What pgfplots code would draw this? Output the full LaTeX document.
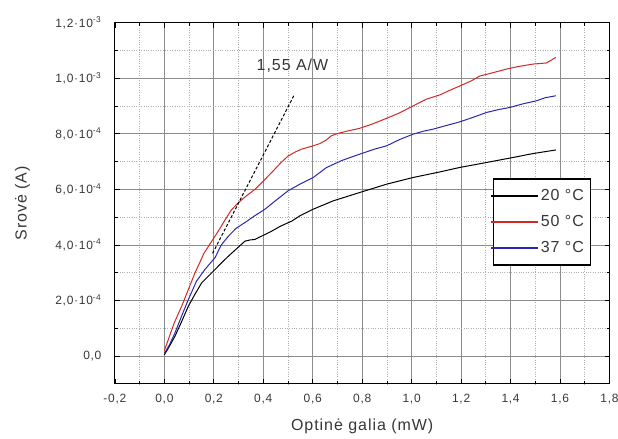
\documentclass[border=0pt]{standalone}
\usepackage{pgfplots}
\pgfplotsset{compat=1.18}
\usepackage{fontspec}
\setmainfont{Liberation Sans}[LetterSpace=6]
\definecolor{cred}{RGB}{210,40,40}
\definecolor{cblue}{RGB}{40,40,175}
\definecolor{grd}{RGB}{140,140,140}
\definecolor{mgrd}{RGB}{175,175,175}
\definecolor{txt}{RGB}{55,55,55}
\begin{document}
\begin{tikzpicture}
\begin{axis}[
  scale only axis, width=495bp, height=361.6bp,
  xmin=-0.2, xmax=1.8, ymin=-1e-4, ymax=1.2e-3,
  xtick={-0.2,0,0.2,0.4,0.6,0.8,1.0,1.2,1.4,1.6,1.8},
  xticklabels={{-0,2},{0,0},{0,2},{0,4},{0,6},{0,8},{1,0},{1,2},{1,4},{1,6},{1,8}},
  ytick={0,2e-4,4e-4,6e-4,8e-4,1e-3,1.2e-3},
  yticklabels={{0,0},{2,0·10\textsuperscript{-4}},{4,0·10\textsuperscript{-4}},{6,0·10\textsuperscript{-4}},{8,0·10\textsuperscript{-4}},{1,0·10\textsuperscript{-3}},{1,2·10\textsuperscript{-3}}},
  scaled y ticks=false, scaled x ticks=false,
  minor x tick num=1, minor y tick num=1,
  grid=both,
  major grid style={grd, line width=1bp},
  minor grid style={mgrd, dotted, line width=0.8bp},
  axis line style={black, line width=1bp},
  tick align=inside,
  major tick length=5bp, minor tick length=3bp,
  every tick/.style={black, line width=0.8bp},
  tick label style={font=\fontsize{12bp}{14bp}\selectfont, text=txt},
  xticklabel style={yshift=-7bp},
  yticklabel style={xshift=-10bp},
  label style={font=\fontsize{16bp}{19bp}\selectfont, text=txt},
  xlabel={Optinė galia (mW)},
  ylabel={Srovė (A)},
  xlabel style={at={(axis description cs:0.5,-0.116)}, anchor=center},
  ylabel style={at={(axis description cs:-0.187,0.5)}, anchor=center},
  legend style={at={(0.9625,0.569)}, anchor=north east,
    inner xsep=4bp, inner ysep=8bp, font=\fontsize{16bp}{19bp}\selectfont\color{txt},
    cells={anchor=west}, row sep=8.5bp, nodes={inner sep=2.5bp}, line width=1.2bp},
  legend image code/.code={\draw[overlay,#1,line width=1.4bp] (-6.5bp,0bp) -- (40bp,0bp); \path (0bp,0bp) -- (40bp,0bp);},
]
\addplot[black, line width=1bp] coordinates {
(0.000,0.005e-3) (0.020,0.035e-3) (0.043,0.072e-3) (0.070,0.125e-3) (0.097,0.180e-3)
(0.125,0.225e-3) (0.151,0.264e-3) (0.180,0.290e-3) (0.205,0.312e-3) (0.230,0.335e-3)
(0.259,0.360e-3) (0.290,0.385e-3) (0.326,0.414e-3) (0.345,0.418e-3) (0.366,0.420e-3)
(0.400,0.435e-3) (0.434,0.450e-3) (0.470,0.468e-3) (0.515,0.486e-3) (0.548,0.505e-3)
(0.602,0.529e-3) (0.683,0.559e-3) (0.790,0.589e-3) (0.899,0.619e-3) (1.006,0.643e-3)
(1.114,0.663e-3) (1.194,0.679e-3) (1.303,0.697e-3) (1.410,0.715e-3) (1.490,0.729e-3)
(1.583,0.742e-3)};
\addlegendentry{20 °C}
\addplot[cred, line width=1bp] coordinates {
(0.000,0.020e-3) (0.016,0.060e-3) (0.040,0.120e-3) (0.070,0.180e-3) (0.097,0.240e-3)
(0.124,0.300e-3) (0.160,0.370e-3) (0.205,0.432e-3) (0.225,0.460e-3) (0.245,0.490e-3)
(0.270,0.525e-3) (0.300,0.553e-3) (0.333,0.578e-3) (0.366,0.600e-3) (0.400,0.630e-3)
(0.434,0.661e-3) (0.470,0.695e-3) (0.500,0.720e-3) (0.530,0.735e-3) (0.555,0.745e-3)
(0.602,0.757e-3) (0.629,0.765e-3) (0.655,0.778e-3) (0.675,0.793e-3) (0.700,0.801e-3)
(0.740,0.810e-3) (0.790,0.820e-3) (0.840,0.835e-3) (0.899,0.856e-3) (0.950,0.875e-3)
(1.020,0.907e-3) (1.060,0.925e-3) (1.114,0.940e-3) (1.150,0.955e-3) (1.194,0.972e-3)
(1.240,0.990e-3) (1.275,1.008e-3) (1.320,1.018e-3) (1.383,1.033e-3) (1.430,1.042e-3)
(1.490,1.051e-3) (1.545,1.055e-3) (1.583,1.075e-3)};
\addlegendentry{50 °C}
\addplot[cblue, line width=1bp] coordinates {
(0.000,0.010e-3) (0.020,0.040e-3) (0.043,0.084e-3) (0.070,0.145e-3) (0.097,0.204e-3)
(0.130,0.270e-3) (0.164,0.312e-3) (0.205,0.355e-3) (0.230,0.400e-3) (0.259,0.432e-3)
(0.290,0.460e-3) (0.326,0.481e-3) (0.365,0.505e-3) (0.407,0.529e-3) (0.450,0.560e-3)
(0.500,0.595e-3) (0.548,0.619e-3) (0.602,0.643e-3) (0.656,0.679e-3) (0.720,0.705e-3)
(0.790,0.727e-3) (0.850,0.745e-3) (0.899,0.757e-3) (0.950,0.779e-3) (1.006,0.799e-3)
(1.050,0.810e-3) (1.087,0.817e-3) (1.140,0.830e-3) (1.194,0.843e-3) (1.250,0.860e-3)
(1.303,0.877e-3) (1.350,0.887e-3) (1.397,0.895e-3) (1.450,0.908e-3) (1.505,0.919e-3)
(1.540,0.930e-3) (1.583,0.937e-3)};
\addlegendentry{37 °C}
\addplot[black, densely dashed, line width=1bp, forget plot] coordinates {(0.195,0.37e-3) (0.525,0.94e-3)};
\node[font=\fontsize{16bp}{19bp}\selectfont, text=txt] at (axis cs:0.518,1.044e-3) {1,55 A/W};
\end{axis}
\pgfresetboundingbox
\path ([shift={(-115bp,-54.7bp)}]current axis.south west) rectangle ([shift={(8.5bp,22.7bp)}]current axis.north east);
\end{tikzpicture}
\end{document}
